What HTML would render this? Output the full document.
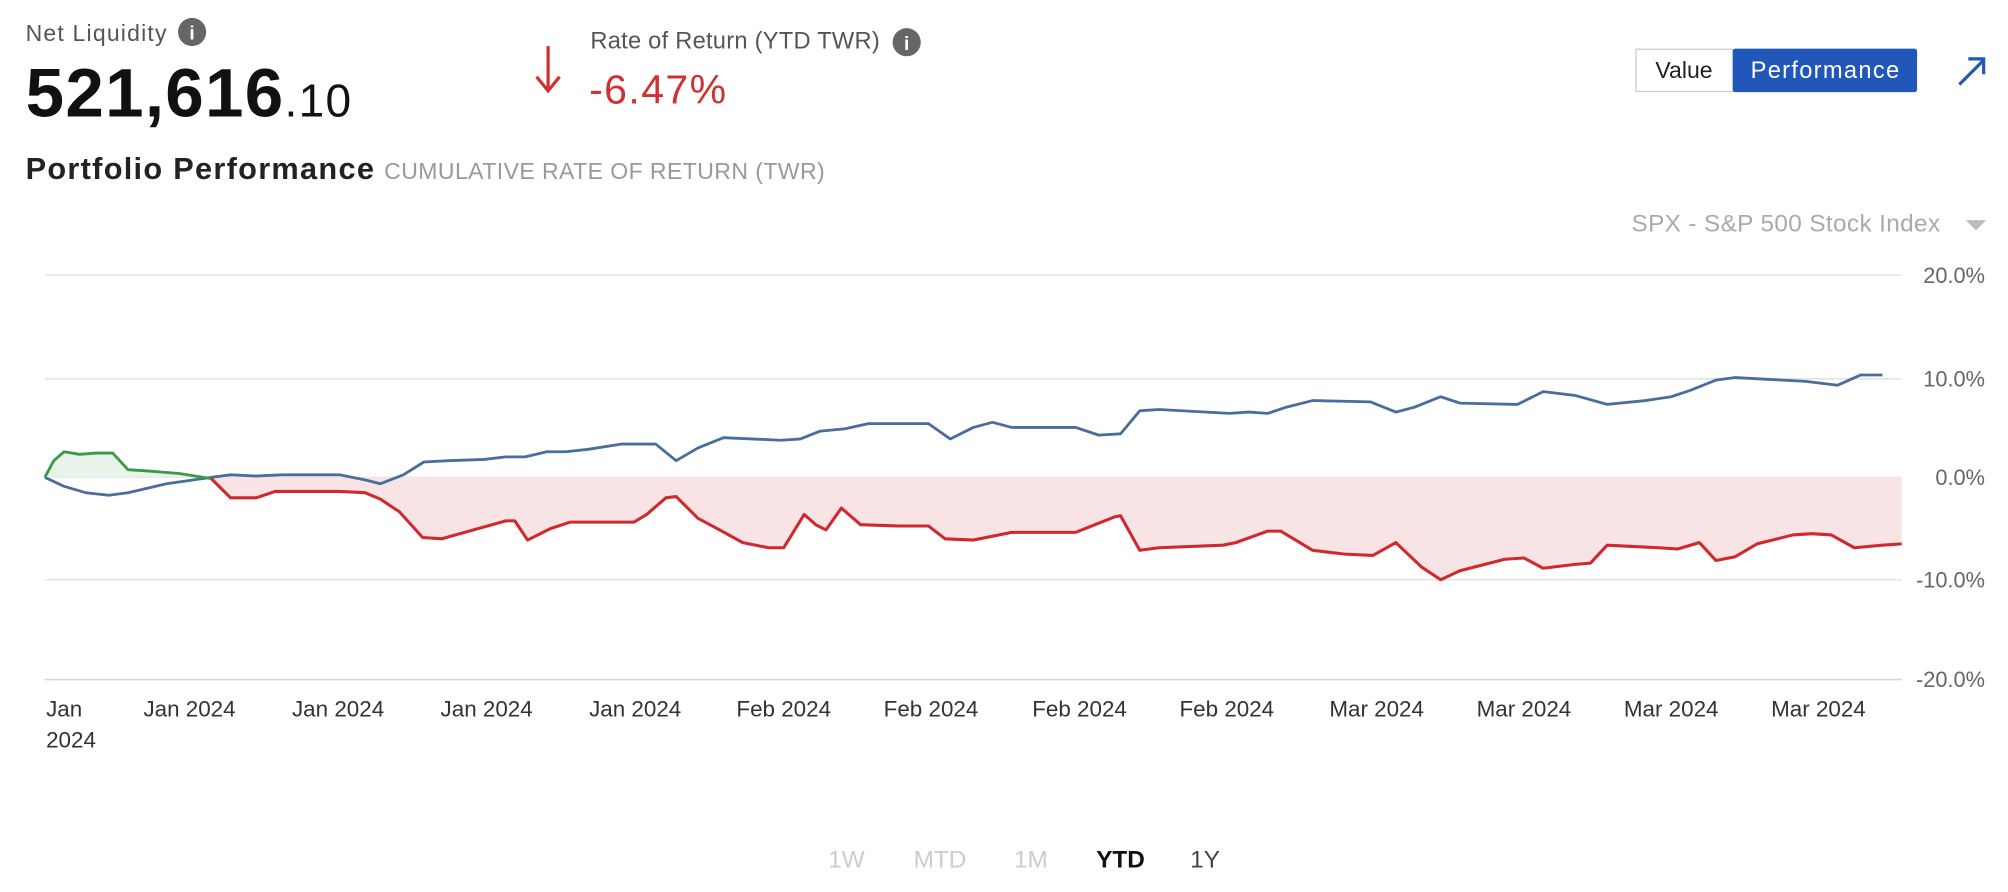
<!DOCTYPE html>
<html><head><meta charset="utf-8"><style>
html,body{margin:0;padding:0;background:#fff;}
svg{display:block;font-family:"Liberation Sans",Arial,sans-serif;}
</style></head><body>
<svg width="2008" height="892" viewBox="0 0 1568 697" preserveAspectRatio="none" xmlns="http://www.w3.org/2000/svg">
<rect width="1568" height="697" fill="#fff"/>
<text x="20" y="32" font-size="18" fill="#555" textLength="110">Net Liquidity</text>
<circle cx="150" cy="25" r="11" fill="#666"/>
<text x="150" y="31" font-size="15" font-weight="bold" fill="#fff" text-anchor="middle">i</text>
<text x="20" y="91" font-size="54" fill="#111" font-weight="bold" letter-spacing="1">521,616<tspan font-size="36" font-weight="normal">.10</tspan></text>
<line x1="428" y1="36" x2="428" y2="70" stroke="#d03030" stroke-width="2.5"/>
<polyline points="419,60 428,71 437,60" fill="none" stroke="#d03030" stroke-width="2.5"/>
<text x="461" y="38" font-size="18.5" fill="#555" textLength="226">Rate of Return (YTD TWR)</text>
<circle cx="708" cy="33" r="11" fill="#666"/>
<text x="708" y="39" font-size="15" font-weight="bold" fill="#fff" text-anchor="middle">i</text>
<text x="460" y="81" font-size="32" fill="#d03030" textLength="107">-6.47%</text>
<rect x="1277.5" y="38.5" width="76" height="33" fill="#fff" stroke="#ccc"/>
<text x="1315" y="61" font-size="18" fill="#222" text-anchor="middle">Value</text>
<rect x="1353" y="38" width="144" height="34" fill="#2157b8" rx="2"/>
<text x="1425" y="61" font-size="18.5" fill="#fff" text-anchor="middle" textLength="116">Performance</text>
<line x1="1530" y1="66" x2="1549" y2="47" stroke="#2157b8" stroke-width="2.5"/>
<polyline points="1537,46 1549,46 1549,58" fill="none" stroke="#2157b8" stroke-width="2.5"/>
<text x="20" y="140" font-size="24" font-weight="bold" fill="#222" textLength="272">Portfolio Performance</text>
<text x="300" y="140" font-size="18" fill="#999" textLength="344">CUMULATIVE RATE OF RETURN (TWR)</text>
<text x="1274" y="181" font-size="19" fill="#aaa" textLength="241">SPX - S&amp;P 500 Stock Index</text>
<polygon points="1535,172 1551,172 1543,180" fill="#bbb"/>
<g stroke="#e4e4e4" stroke-width="1.2">
<line x1="35" y1="215" x2="1485" y2="215"/>
<line x1="35" y1="296" x2="1485" y2="296"/>
<line x1="35" y1="373" x2="1485" y2="373"/>
<line x1="35" y1="453" x2="1485" y2="453"/>
</g>
<line x1="35" y1="531" x2="1485" y2="531" stroke="#cfd9ec" stroke-width="1.2"/>
<g font-size="17" fill="#666" text-anchor="end">
<text x="1550" y="221">20.0%</text>
<text x="1550" y="302">10.0%</text>
<text x="1550" y="379">0.0%</text>
<text x="1550" y="459">-10.0%</text>
<text x="1550" y="537">-20.0%</text>
</g>
<g font-size="17.5" fill="#333" text-anchor="middle">
<text x="36" y="560" text-anchor="start">Jan</text>
<text x="36" y="584" text-anchor="start">2024</text>
<text x="148" y="560">Jan 2024</text>
<text x="264" y="560">Jan 2024</text>
<text x="380" y="560">Jan 2024</text>
<text x="496" y="560">Jan 2024</text>
<text x="612" y="560">Feb 2024</text>
<text x="727" y="560">Feb 2024</text>
<text x="843" y="560">Feb 2024</text>
<text x="958" y="560">Feb 2024</text>
<text x="1075" y="560">Mar 2024</text>
<text x="1190" y="560">Mar 2024</text>
<text x="1305" y="560">Mar 2024</text>
<text x="1420" y="560">Mar 2024</text>
</g>
<polygon fill="#e9f3ea" points="35,373 42,360 50,353 62,355 75,354 88,354 100,367 115,368 140,370 165,374 165,373"/>
<polygon fill="#f8e4e5" points="165,373 180,389 200,389 215,384 265,384 285,385 297,390 312,400 330,420 345,421 370,414 395,407 402,407 412,422 430,413 445,408 495,408 505,402 520,389 528,388 545,405 560,413 580,424 600,428 612,428 628,402 637,410 645,414 657,397 672,410 702,411 725,411 738,421 760,422 790,416 840,416 855,410 870,404 875,403 890,430 905,428 955,426 965,424 990,415 1000,415 1025,430 1050,433 1072,434 1090,424 1110,443 1125,453 1140,446 1175,437 1190,436 1205,444 1230,441 1242,440 1255,426 1295,428 1310,429 1327,424 1340,438 1355,435 1372,425 1400,418 1415,417 1430,418 1448,428 1470,426 1485,425 1485,373"/>
<polyline fill="none" stroke="#4a6d9c" stroke-width="2.2" stroke-linejoin="round" points="35,373 50,380 67,385 85,387 100,385 130,378 165,373 180,371 200,372 220,371 265,371 285,375 297,378 315,371 331,361 350,360 378,359 395,357 410,357 427,353 442,353 460,351 485,347 512,347 528,360 545,350 565,342 610,344 625,343 640,337 660,335 678,331 725,331 742,343 760,334 775,330 790,334 840,334 858,340 875,339 890,321 905,320 960,323 975,322 990,323 1005,318 1025,313 1070,314 1090,322 1105,318 1125,310 1140,315 1185,316 1205,306 1230,309 1255,316 1285,313 1305,310 1320,305 1340,297 1355,295 1410,298 1435,301 1453,293 1470,293"/>
<polyline fill="none" stroke="#3a9a48" stroke-width="2.2" stroke-linejoin="round" points="35,373 42,360 50,353 62,355 75,354 88,354 100,367 115,368 140,370 165,374"/>
<polyline fill="none" stroke="#d0282e" stroke-width="2.4" stroke-linejoin="round" points="165,374 180,389 200,389 215,384 265,384 285,385 297,390 312,400 330,420 345,421 370,414 395,407 402,407 412,422 430,413 445,408 495,408 505,402 520,389 528,388 545,405 560,413 580,424 600,428 612,428 628,402 637,410 645,414 657,397 672,410 702,411 725,411 738,421 760,422 790,416 840,416 855,410 870,404 875,403 890,430 905,428 955,426 965,424 990,415 1000,415 1025,430 1050,433 1072,434 1090,424 1110,443 1125,453 1140,446 1175,437 1190,436 1205,444 1230,441 1242,440 1255,426 1295,428 1310,429 1327,424 1340,438 1355,435 1372,425 1400,418 1415,417 1430,418 1448,428 1470,426 1485,425"/>
<g font-size="19" fill="#ccc" text-anchor="middle">
<text x="661" y="678">1W</text>
<text x="734" y="678">MTD</text>
<text x="805" y="678">1M</text>
<text x="875" y="678" fill="#111" font-weight="bold">YTD</text>
<text x="941" y="678" fill="#444">1Y</text>
</g>
</svg>
</body></html>
